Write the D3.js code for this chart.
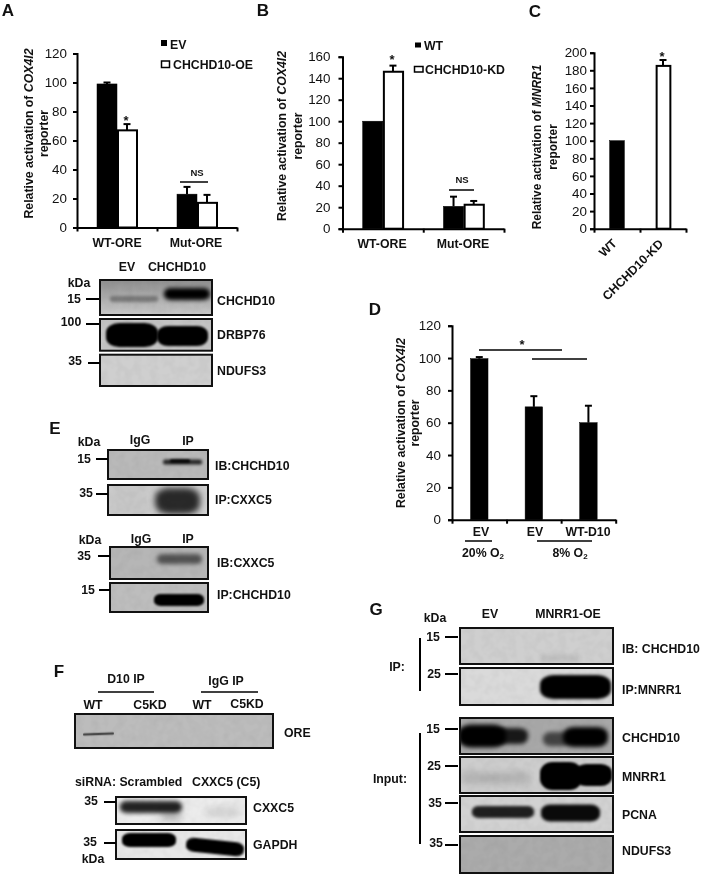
<!DOCTYPE html>
<html><head><meta charset="utf-8">
<script src="https://cdn.jsdelivr.net/npm/d3@7/dist/d3.min.js"></script>
<style>html,body{margin:0;padding:0;background:#fff}svg{display:block;filter:blur(.35px)}
text{font-family:"Liberation Sans",Arial,sans-serif;fill:#111}</style></head><body>
<svg id="c" width="701" height="875"></svg>
<script>
// ---------- chart values ----------
const oreGroups = ["WT-ORE","Mut-ORE"];
const evValues = [99,23], evErr = [1,5];
const oeValues = [67,17], oeErr = [4.3,5.5];
const wtValues = [100,20.8], wtErr = [0,9];
const kdValues = [146,22.3], kdErr = [5.7,3.5];
const mnrrGroups = ["WT","CHCHD10-KD"];
const mnrrValues = [100,185], mnrrErr = [0,6.7];
const hypoxiaGroups = ["EV 20","EV 8","WT-D10"];
const hypoxiaLabels = ["EV","EV","WT-D10"];
const hypoxiaValues = [99.6,69.8,60], hypoxiaErr = [1,6.6,10.5];
const ticksA = [0,20,40,60,80,100,120];
const ticksB = [0,20,40,60,80,100,120,140,160];
const ticksC = [0,20,40,60,80,100,120,140,160,180,200];

const svg = d3.select("#c");
const defs = svg.append("defs");
[0.6,1,1.5,2,3,4].forEach(s=>defs.append("filter").attr("id","b"+String(s).replace(".","_"))
  .attr("x","-30%").attr("y","-60%").attr("width","160%").attr("height","220%")
  .append("feGaussianBlur").attr("stdDeviation",s));
const grain = defs.append("filter").attr("id","grain").attr("x",0).attr("y",0).attr("width","100%").attr("height","100%");
grain.append("feTurbulence").attr("type","fractalNoise").attr("baseFrequency",0.12).attr("numOctaves",2).attr("seed",4);
grain.append("feColorMatrix").attr("values","0 0 0 0 0  0 0 0 0 0  0 0 0 0 0  0.9 0 0 0 -0.3");

const BOLD = 12.3;
function T(x,y,s,o={}){
  const t = svg.append("text").attr("x",x).attr("y",y).text(s)
    .attr("font-size",o.size||BOLD).attr("font-weight",o.w||"bold")
    .attr("text-anchor",o.a||"start").attr("dominant-baseline","central");
  return t;
}
function L(x1,y1,x2,y2,w=2){svg.append("line").attr("x1",x1).attr("y1",y1).attr("x2",x2).attr("y2",y2).attr("stroke","#000").attr("stroke-width",w);}

function yTitle(x1,x2,cy,gene,size){
  const g = svg.append("text").attr("transform",`translate(${x1},${cy}) rotate(-90)`).attr("text-anchor","middle")
    .attr("dominant-baseline","central").attr("font-size",size||BOLD).attr("font-weight","bold");
  g.append("tspan").text("Relative activation of ");
  g.append("tspan").attr("font-style","italic").text(gene);
  T(0,0,"reporter",{a:"middle",size:size}).attr("x",null).attr("y",null).attr("transform",`translate(${x2},${cy}) rotate(-90)`);
}

function barChart(o){
  const y = d3.scaleLinear().domain(o.domain).range([o.y0,o.y1]);
  const xBand = d3.scaleBand().domain(o.groups).range([o.x0,o.x1]);
  const xEdges = d3.scaleLinear().domain([0,o.groups.length]).range([o.x0,o.x1]);
  const gy = svg.append("g").attr("transform",`translate(${o.x0},0)`)
    .call(d3.axisLeft(y).tickValues(o.ticks).tickSizeOuter(0).tickSize(4).tickPadding(o.pad));
  const gx = svg.append("g").attr("transform",`translate(0,${o.y0})`)
    .call(d3.axisBottom(xEdges).tickValues(d3.range(o.groups.length+1)).tickSize(4).tickSizeOuter(0).tickFormat(""));
  [gy,gx].forEach(g=>{g.selectAll("path,line").attr("stroke","#000").attr("stroke-width",2);});
  gy.selectAll("text").attr("font-size",13.4).attr("font-family","Liberation Sans").attr("fill","#111");
  o.series.forEach((s,si)=>{
    const inner = xBand.bandwidth()*o.barFrac;
    const off = o.series.length===1 ? -inner/2 : (si===0?-inner:0);
    const g = svg.append("g");
    const fillOf = (i)=> s.fills ? s.fills[i] : s.fill;
    const left = (i)=> xBand(o.groups[i])+xBand.bandwidth()/2+off;
    g.selectAll("line.stem").data(s.values).join("line").attr("class","stem")
      .attr("x1",(d,i)=>left(i)+inner/2).attr("x2",(d,i)=>left(i)+inner/2)
      .attr("y1",d=>y(d)).attr("y2",(d,i)=>y(d+s.err[i])).attr("stroke","#000").attr("stroke-width",2)
      .attr("display",(d,i)=>s.err[i]>0?null:"none");
    g.selectAll("line.cap").data(s.values).join("line").attr("class","cap")
      .attr("x1",(d,i)=>left(i)+inner/2-3.5).attr("x2",(d,i)=>left(i)+inner/2+3.5)
      .attr("y1",(d,i)=>y(d+s.err[i])).attr("y2",(d,i)=>y(d+s.err[i])).attr("stroke","#000").attr("stroke-width",2)
      .attr("display",(d,i)=>s.err[i]>0?null:"none");
    g.selectAll("rect").data(s.values).join("rect")
      .attr("x",(d,i)=>left(i)+(fillOf(i)==="#fff"?1:0))
      .attr("y",d=>y(d)).attr("width",(d,i)=>inner-(fillOf(i)==="#fff"?1:0)).attr("height",d=>o.y0-y(d))
      .attr("fill",(d,i)=>fillOf(i)).attr("stroke","#000").attr("stroke-width",(d,i)=>fillOf(i)==="#fff"?2:0.5);
  });
}

// A
barChart({domain:[0,120],y0:227.5,y1:53.5,x0:77,x1:237,groups:oreGroups,ticks:ticksA,pad:6,barFrac:.25,
  series:[{values:evValues,err:evErr,fill:"#000"},{values:oeValues,err:oeErr,fill:"#fff"}]});
// B
barChart({domain:[0,160],y0:228.7,y1:56.7,x0:342.5,x1:504,groups:oreGroups,ticks:ticksB,pad:8,barFrac:.25,
  series:[{values:wtValues,err:wtErr,fill:"#000"},{values:kdValues,err:kdErr,fill:"#fff"}]});
// C
barChart({domain:[0,200],y0:228.7,y1:52.7,x0:594,x1:686,groups:mnrrGroups,ticks:ticksC,pad:3,barFrac:.32,
  series:[{values:mnrrValues,err:mnrrErr,fills:["#000","#fff"]}]});
// D
barChart({domain:[0,120],y0:519.7,y1:325.7,x0:452,x1:615.7,groups:hypoxiaGroups,ticks:ticksA,pad:7,barFrac:.32,
  series:[{values:hypoxiaValues,err:hypoxiaErr,fill:"#000"}]});

yTitle(29,44,133.5,"COX4I2");
yTitle(282,298,136,"COX4I2");
yTitle(537,553,147,"MNRR1",11.9);
yTitle(401,415,423,"COX4I2");

// panel letters
[["A",8,10],["B",263,10],["C",535,11],["D",375,309],["E",55,428],["F",59,671],["G",376,609]]
 .forEach(d=>T(d[1],d[2],d[0],{a:"middle",size:17}));

// legends
svg.append("rect").attr("x",161).attr("y",40).attr("width",6).attr("height",6).attr("fill","#000");
T(170,44.5,"EV");
svg.append("rect").attr("x",161.5).attr("y",61).attr("width",8).attr("height",6.5).attr("fill","#fff").attr("stroke","#000").attr("stroke-width",1.5);
T(173,65,"CHCHD10-OE");
svg.append("rect").attr("x",415).attr("y",42.5).attr("width",6).attr("height",5).attr("fill","#000");
T(424,45.5,"WT");
svg.append("rect").attr("x",414.5).attr("y",66.5).attr("width",8.5).attr("height",5.5).attr("fill","#fff").attr("stroke","#000").attr("stroke-width",1.5);
T(425,70,"CHCHD10-KD");

// x labels
T(117,243,oreGroups[0],{a:"middle"}); T(196,243,oreGroups[1],{a:"middle"});
T(382,244,oreGroups[0],{a:"middle"}); T(463,244,oreGroups[1],{a:"middle"});
[[608,248,mnrrGroups[0]],[633,270,mnrrGroups[1]]].forEach(d=>
  T(0,0,d[2],{a:"middle"}).attr("x",null).attr("y",null).attr("transform",`translate(${d[0]},${d[1]}) rotate(-45)`));
[[481,532],[535,532],[588,532]].forEach((d,i)=>T(d[0],d[1],hypoxiaLabels[i],{a:"middle"}));
L(465,541,492,541,1.5); L(537,541,592,541,1.5);
function o2(x,y,s){const t=T(x,y,s,{a:"middle"});t.append("tspan").attr("dy",3).attr("font-size",8).text("2");}
o2(483,553,"20% O"); o2(570,553,"8% O");

// significance
T(126,120,"*",{a:"middle",size:13}); T(197,172,"NS",{a:"middle",size:9.5}); L(180,182,208,182,1.5);
T(392,59,"*",{a:"middle",size:13}); T(462,179,"NS",{a:"middle",size:9.5}); L(449,190,474,190,1.5);
T(662,56,"*",{a:"middle",size:13});
T(522,344,"*",{a:"middle",size:13}); L(479,350,562,350,1.5); L(532,359,587,359,1.5);

// ---------- blots (layout of gel panels; band strength 0-1 as the read value) ----------
let clipN=0;
function blot(x0,x1,y0,y1,bg,bands,grad){
  const id="clip"+(++clipN);
  defs.append("clipPath").attr("id",id).append("rect").attr("x",x0).attr("y",y0).attr("width",x1-x0).attr("height",y1-y0);
  const g = svg.append("g").attr("clip-path",`url(#${id})`);
  let fill=bg;
  if(grad){
    const gid="grad"+clipN;
    const lg=defs.append("linearGradient").attr("id",gid).attr("x1",0).attr("y1",0).attr("x2",0).attr("y2",1);
    lg.append("stop").attr("offset",0).attr("stop-color",grad[0]);
    lg.append("stop").attr("offset",1).attr("stop-color",grad[1]);
    fill=`url(#${gid})`;
  }
  g.append("rect").attr("x",x0).attr("y",y0).attr("width",x1-x0).attr("height",y1-y0).attr("fill",fill);
  g.append("rect").attr("x",x0).attr("y",y0).attr("width",x1-x0).attr("height",y1-y0).attr("filter","url(#grain)").attr("opacity",.07);
  bands.forEach(b=>{
    const w=b[1]-b[0], h=2*b[3], cx=(b[0]+b[1])/2;
    const e=g.append("rect").attr("x",b[0]).attr("y",b[2]-b[3]).attr("width",w).attr("height",h)
      .attr("rx",Math.min(w*.3,h*.55)).attr("ry",b[3]*.8)
      .attr("fill","#000").attr("opacity",b[4]).attr("filter",`url(#b${String(b[5]).replace(".","_")})`);
    if(b[6]) e.attr("transform",`rotate(${b[6]} ${cx} ${b[2]})`);
  });
  svg.append("rect").attr("x",x0).attr("y",y0).attr("width",x1-x0).attr("height",y1-y0).attr("fill","none").attr("stroke","#111").attr("stroke-width",2);
}
const strong=1, medium=.6, weak=.3, faint=.08;

// Panel A blots
blot(100,212,280,315,"#bbb",[[110,158,299,3,weak,1.5],[164,210,294,6,strong,2]],["#8f8f8f","#c9c9c9"]);
blot(100,212,319,350.7,"#c4c4c4",[[106,158,335,12,strong,1],[157,208,336,10,strong,1]]);
blot(100,212,354.7,386,"#cfcfcf",[]);
T(127,267,"EV",{a:"middle"}); T(177,267,"CHCHD10",{a:"middle"});
T(79,283,"kDa",{a:"middle"}); T(74,299,"15",{a:"middle"}); L(86,299,99,299);
T(71,322,"100",{a:"middle"}); L(86,324,99,324);
T(75,361,"35",{a:"middle"}); L(88,363,100,363);
T(217,300.7,"CHCHD10"); T(217,335,"DRBP76"); T(217,371,"NDUFS3");

// Panel E blots
blot(108,208,450,479,"#b9b9b9",[[163,202,462,2.5,.8,1.5],[170,190,461,1.5,strong,1]]);
blot(108,208,485,515,"#cfcfcf",[[155,200,501,13,.8,3],[108,150,500,20,.03,3]]);
blot(110,208,547,579,"#b6b6b6",[[157,202,559,5,.55,2]]);
blot(110,208,583,612,"#bdbdbd",[[154,204,600,6,strong,1]]);
T(89,442,"kDa",{a:"middle"}); T(140,440,"IgG",{a:"middle"}); T(188,441,"IP",{a:"middle"});
T(84,459,"15",{a:"middle"}); L(96,459,108,459); T(86,493,"35",{a:"middle"}); L(96,494,108,494);
T(215,466,"IB:CHCHD10"); T(215,500,"IP:CXXC5");
T(90,540,"kDa",{a:"middle"}); T(141,539,"IgG",{a:"middle"}); T(188,539,"IP",{a:"middle"});
T(84,556,"35",{a:"middle"}); L(98,556,110,556); T(88,590,"15",{a:"middle"}); L(99,590,110,590);
T(217,563,"IB:CXXC5"); T(217,595,"IP:CHCHD10");

// Panel F blots
T(126,679,"D10 IP",{a:"middle"}); L(98,692,154,692,1.5); T(226,681,"IgG IP",{a:"middle"}); L(201,692,258,692,1.5);
T(93,705,"WT",{a:"middle"}); T(150,705,"C5KD",{a:"middle"}); T(202,705,"WT",{a:"middle"}); T(247,704,"C5KD",{a:"middle"});
blot(75,273,714,748,"#bcbcbc",[[83,114,734,1.3,medium,.6,-2]]);
T(284,733,"ORE");
T(75,782,"siRNA: Scrambled"); T(192,782,"CXXC5 (C5)");
blot(116,246,797,824,"#ececec",[[120,182,807,6,.85,2],[160,182,816,5,.2,3],[205,240,812,5,.1,3]]);
blot(116,246,830,859,"#e8e8e8",[[122,176,840,7,strong,1],[186,244,847,7,strong,1,6]]);
T(91,801,"35",{a:"middle"}); L(104,802,116,802); T(90,842,"35",{a:"middle"}); L(104,843,116,843); T(93,859,"kDa",{a:"middle"});
T(253,808,"CXXC5"); T(253,845,"GAPDH");

// Panel G blots
T(435,618,"kDa",{a:"middle"}); T(490,614,"EV",{a:"middle"}); T(568,614,"MNRR1-OE",{a:"middle"});
blot(460,613,628,664,"#cfcfcf",[[540,580,658,3,faint,2]]);
blot(460,613,668,705,"#dadada",[[540,611,687,12,strong,1.5]]);
blot(460,613,718,754,"#a8a8a8",[[458,506,736,11.5,strong,2],[495,528,736,8,.85,2],[543,570,739,7,.6,2],[563,608,737,10,strong,2]]);
blot(460,613,757,793,"#cdcdcd",[[540,582,776,14,strong,1],[575,612,775,11,strong,1],[462,530,778,6,.12,3]]);
blot(460,613,796,832,"#d2d2d2",[[472,534,812,6,.85,1.5],[541,600,813,8.5,.95,1.5]]);
blot(460,613,836,873,"#ababab",[]);
[[433,637,"15",637],[434,674,"25",674],[433,729,"15",729],[434,766,"25",766],[435,803,"35",803],[436,843,"35",845]]
 .forEach(d=>{T(d[0],d[1],d[2],{a:"middle"}); L(445,d[3],458,d[3]);});
L(420,638,420,691); L(420,733,420,844);
T(397,667,"IP:",{a:"middle"}); T(390,779,"Input:",{a:"middle"});
[["IB: CHCHD10",649],["IP:MNRR1",690],["CHCHD10",738],["MNRR1",777],["PCNA",815],["NDUFS3",851]].forEach(d=>T(622,d[1],d[0]));
</script></body></html>
